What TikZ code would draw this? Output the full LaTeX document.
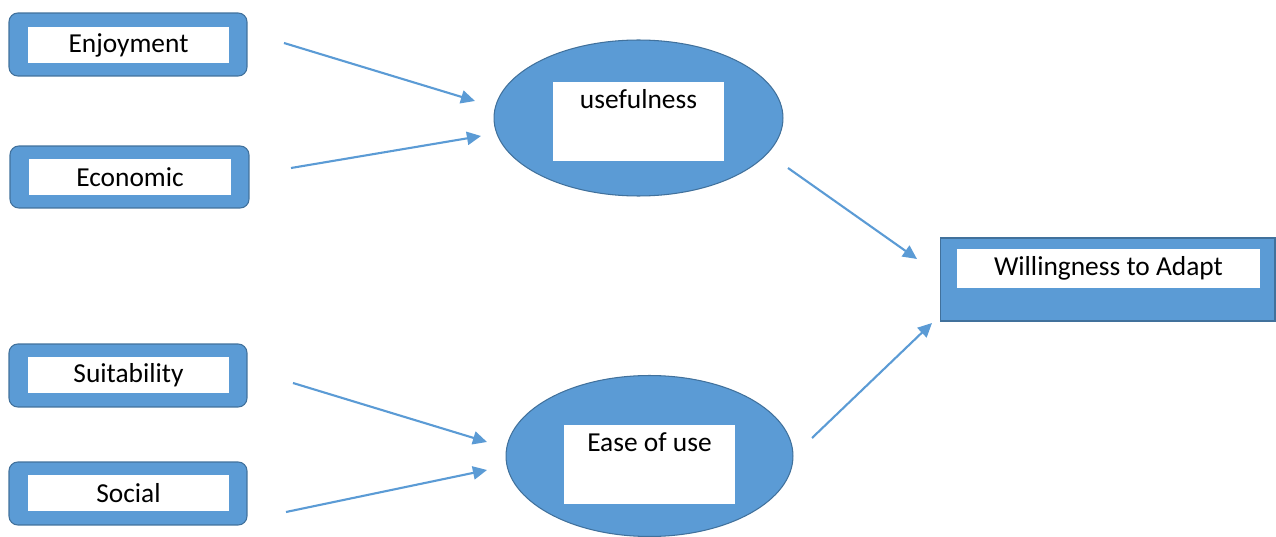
\documentclass[tikz,border=0pt]{standalone}
\usepackage{fontspec}
\setmainfont{Carlito}
\usepackage{tikz}
\usetikzlibrary{arrows.meta,shapes.geometric}
\definecolor{boxblue}{RGB}{91,155,213}
\definecolor{edgeblue}{RGB}{65,113,156}
\tikzstyle{outbox}=[rectangle, draw=edgeblue, fill=boxblue, line width=0.6pt, rounded corners=5pt]
\tikzstyle{inbox}=[rectangle, fill=white, inner sep=0pt, font=\fontsize{15.6}{18}\selectfont]
\tikzstyle{construct}=[ellipse, draw=edgeblue, fill=boxblue, line width=0.6pt]
\tikzset{->-/.style={draw=boxblue, line width=1.2pt, -{Triangle[length=8pt,width=7.5pt]}}}

\begin{document}
\begin{tikzpicture}[x=0.02cm, y=-0.02cm]
    \useasboundingbox (0,0) rectangle (1276,537);
    \node[outbox, minimum width=4.76cm, minimum height=1.26cm] (enjoy) at (128,44.5) {};
    \node[inbox, minimum width=4.02cm, minimum height=0.72cm] (enjoyin) at (128.5,45) {Enjoyment};
    \node[outbox, minimum width=4.78cm, minimum height=1.24cm] (econ) at (129.5,177) {};
    \node[inbox, minimum width=4.04cm, minimum height=0.72cm] (econin) at (130,177) {Economic};
    \node[outbox, minimum width=4.76cm, minimum height=1.26cm] (suit) at (128,375.5) {};
    \node[inbox, minimum width=4.02cm, minimum height=0.72cm] (suitin) at (128.5,375) {Suitability};
    \node[outbox, minimum width=4.76cm, minimum height=1.26cm] (social) at (128,493.5) {};
    \node[inbox, minimum width=4.02cm, minimum height=0.72cm] (socialin) at (128.5,493) {Social};
    \node[construct, minimum width=5.78cm, minimum height=3.12cm, inner sep=0pt] (useful) at (638.5,118) {};
    \node[inbox, minimum width=3.42cm, text height=14.7pt, text depth=30pt] (usefulin) at (638.5,121.5) {usefulness};
    \node[construct, minimum width=5.74cm, minimum height=3.22cm, inner sep=0pt] (ease) at (649.5,456) {};
    \node[inbox, minimum width=3.42cm, text height=14.7pt, text depth=30pt] (easein) at (649.5,464.5) {Ease of use};
    \node[rectangle, draw=edgeblue, fill=boxblue, line width=0.6pt, minimum width=6.70cm, minimum height=1.66cm] (will) at (1107.5,279.5) {};
    \node[inbox, minimum width=6.06cm, minimum height=0.78cm] (willin) at (1108.5,268.5) {Willingness to Adapt};
    \coordinate (enjoyout) at (284,43);
    \coordinate (usefulinA) at (475,101);
    \coordinate (econout) at (291,168);
    \coordinate (usefulinB) at (481,136);
    \coordinate (suitout) at (293,383);
    \coordinate (easeinA) at (487,442);
    \coordinate (socialout) at (286,512);
    \coordinate (easeinB) at (487,470);
    \coordinate (usefulout) at (788,168);
    \coordinate (willinA) at (917,259);
    \coordinate (easeout) at (812,438);
    \coordinate (willinB) at (932,323);
    \draw[->-] (enjoyout) to (usefulinA);
    \draw[->-] (econout) to (usefulinB);
    \draw[->-] (suitout) to (easeinA);
    \draw[->-] (socialout) to (easeinB);
    \draw[->-] (usefulout) to (willinA);
    \draw[->-] (easeout) to (willinB);
\end{tikzpicture}
\end{document}
